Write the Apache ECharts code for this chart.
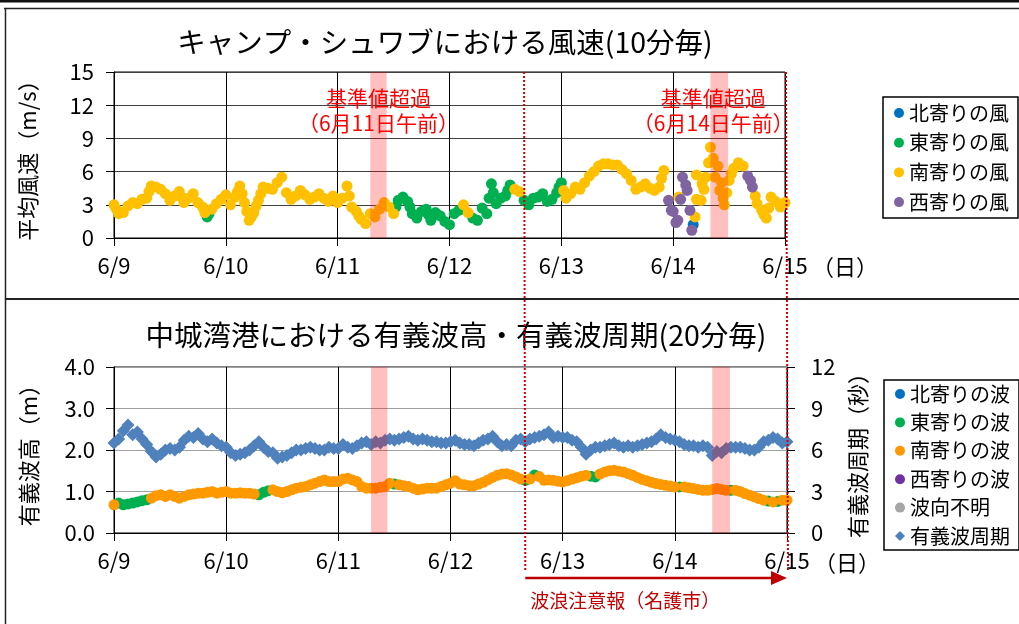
<!DOCTYPE html>
<html>
<head>
<meta charset="utf-8">
<script src="https://cdn.jsdelivr.net/npm/echarts@6/dist/echarts.min.js"></script>
<style>
  html, body { margin: 0; padding: 0; background: #fff; }
  #main { width: 1019px; height: 624px; }
</style>
</head>
<body>
<div id="main"></div>
<script>
const dayLabels = ['6/9', '6/10', '6/11', '6/12', '6/13', '6/14', '6/15']

// one reading per hour from 6/9 0:00 (index = hour)
const windSpeed = [
  3.0, 2.2, 2.3, 2.9, 3.2, 3.1, 3.5, 3.6, 4.7, 4.6, 4.4, 4.0, 3.4, 3.8, 4.2, 3.2, 3.6, 4.0, 3.2, 2.8, 1.9, 2.6, 3.1, 3.5,
  3.9, 3.0, 3.7, 4.7, 3.2, 1.6, 2.3, 3.4, 4.6, 4.5, 4.4, 5.0, 5.5, 4.1, 3.5, 3.8, 4.3, 3.9, 3.5, 3.7, 4.0, 3.6, 3.3, 3.8,
  3.2, 3.6, 4.7, 2.8, 2.4, 1.7, 1.3, 2.2, 1.9, 2.6, 3.2, 2.8, 2.2, 3.4, 3.7, 3.3, 2.2, 1.8, 2.4, 2.6, 1.6, 2.3, 2.0, 1.5,
  1.2, 2.2, 2.5, 3.0, 2.3, 1.8, 1.6, 2.7, 2.2, 4.9, 3.1, 3.6, 3.8, 4.8, 4.4, 4.2, 3.4, 3.0, 3.6, 3.7, 4.0, 3.3, 3.5, 4.1,
  5.0, 3.6, 4.0, 4.6, 4.4, 5.0, 5.6, 6.0, 6.5, 6.7, 6.7, 6.6, 6.6, 6.2, 5.8, 5.2, 4.4, 4.6, 4.9, 4.5, 4.3, 4.6, 6.1, 3.4,
  2.4, 1.6, 5.5, 4.3, 0.7, 5.7, 3.4, 5.5, 8.2, 5.5, 4.3, 3.0, 5.2, 6.3, 6.8, 6.5, 5.6, 4.6, 3.1, 2.5, 1.8, 3.7, 3.3, 2.8,
  3.2
]
// N=北 E=東 S=南 W=西
const windDir = (
  'SSSSSSSSSSSSSSSSSSSSESSS' +
  'SSSSSSSSSSSSSSSSSSSSSSSS' +
  'SSSSSSSSSSSSSEEEEEEEEEEE' +
  'EEESSEEEEEEEEESSEEEEEEEE' +
  'ESSSSSSSSSSSSSSSSSSSSSSW' +
  'WWWWWSSSSSSSSSSSWWSSSSSS' +
  'S'
).split('')
// extra 10-minute readings where the wind changes quickly or directions mix
const windExtraHour = [
  0.5, 7.5, 14.5, 19.5, 20.4, 26.5, 27.5, 28.5, 29.5, 30.5, 31.5, 50.5, 52.5, 60.5, 63.5, 67.5,
  80.5, 81.4, 84.5, 95.5, 96.5, 117.5, 119.6, 120.6, 121.2, 121.6, 122.7, 123.6, 124.3, 124.7, 125.0,
  126.2, 126.6, 127.6, 128.6, 129.6, 130.4, 130.7, 131.5, 132.5, 136.6, 137.6, 139.5, 140.5
]
const windExtraSpeed = [
  2.6, 4.2, 3.7, 2.3, 2.2, 4.2, 4.0, 2.4, 1.9, 2.9, 4.0, 3.8, 2.0, 2.8, 2.8, 2.1,
  3.6, 4.1, 4.3, 4.6, 4.3, 5.4, 2.5, 1.4, 3.7, 3.5, 4.8, 2.5, 1.2, 1.9, 3.5,
  4.9, 4.4, 6.8, 7.2, 6.5, 5.0, 3.6, 4.1, 5.8, 5.2, 3.8, 2.1, 2.7
]
const windExtraDir = [
  'S', 'S', 'S', 'S', 'E', 'S', 'S', 'S', 'S', 'S', 'S', 'S', 'S', 'E', 'E', 'E',
  'E', 'E', 'E', 'E', 'S', 'S', 'W', 'W', 'S', 'W', 'W', 'W', 'N', 'S', 'S',
  'S', 'S', 'S', 'S', 'S', 'S', 'S', 'S', 'S', 'W', 'S', 'S', 'S'
]

const waveHeight = [
  0.68, 0.72, 0.68, 0.70, 0.72, 0.75, 0.78, 0.80, 0.84, 0.90, 0.92, 0.88, 0.92, 0.88, 0.84, 0.88, 0.92, 0.94, 0.96, 0.96, 0.98, 1.00, 0.96, 0.98,
  1.00, 0.96, 0.96, 0.97, 0.96, 0.96, 0.94, 0.92, 0.98, 1.02, 1.04, 1.00, 0.97, 1.00, 1.04, 1.08, 1.10, 1.12, 1.16, 1.20, 1.24, 1.28, 1.24, 1.24,
  1.24, 1.30, 1.32, 1.28, 1.24, 1.12, 1.08, 1.08, 1.08, 1.10, 1.12, 1.20, 1.18, 1.16, 1.14, 1.12, 1.08, 1.04, 1.06, 1.08, 1.08, 1.08, 1.12, 1.16,
  1.20, 1.26, 1.18, 1.16, 1.14, 1.14, 1.18, 1.22, 1.28, 1.34, 1.39, 1.42, 1.43, 1.40, 1.35, 1.30, 1.27, 1.30, 1.40, 1.36, 1.27, 1.28, 1.27, 1.25,
  1.23, 1.26, 1.30, 1.33, 1.37, 1.39, 1.37, 1.35, 1.42, 1.47, 1.50, 1.51, 1.49, 1.47, 1.43, 1.39, 1.34, 1.29, 1.26, 1.22, 1.19, 1.17, 1.15, 1.13,
  1.11, 1.11, 1.11, 1.09, 1.07, 1.05, 1.03, 1.03, 1.05, 1.07, 1.05, 1.03, 1.03, 1.03, 1.00, 0.95, 0.91, 0.87, 0.83, 0.79, 0.77, 0.75, 0.76, 0.79,
  0.79
]
const waveDir = (
  'SEEEEEEESSSSSSSSSSSSSSSS' +
  'SSSSSSSEEESSSSSSSSSSSSSS' +
  'SSSSSSSSSSSSESSSSSSSSSSS' +
  'SSSSSSSSSSSSSSSSESESSSSS' +
  'SSSSSSEESSSSSSSSSSSSSSSS' +
  'SESSSSSSSSSSESSSSSSSESES' +
  'S'
).split('')
const wavePeriod = [
  6.5, 6.8, 7.4, 7.8, 7.1, 7.3, 6.8, 6.4, 5.9, 5.5, 5.7, 6.0, 6.1, 6.0, 6.2, 6.7, 7.0, 6.9, 7.2, 6.8, 6.6, 6.8, 6.5, 6.3,
  6.2, 5.8, 5.6, 5.7, 5.8, 6.0, 6.3, 6.6, 6.2, 5.9, 5.8, 5.4, 5.5, 5.6, 5.8, 6.0, 6.0, 6.1, 6.2, 6.1, 6.0, 6.0, 6.2, 6.1,
  6.1, 6.4, 6.2, 6.1, 6.3, 6.5, 6.6, 6.4, 6.6, 6.5, 6.7, 6.8, 6.7, 6.8, 6.9, 7.0, 6.8, 6.7, 6.8, 6.7, 6.6, 6.6, 6.5, 6.5,
  6.6, 6.7, 6.5, 6.4, 6.4, 6.3, 6.5, 6.7, 6.8, 7.0, 6.6, 6.3, 6.4, 6.3, 6.7, 6.8, 6.6, 6.8, 6.9, 7.0, 7.1, 7.3, 6.9, 7.0,
  6.9, 6.9, 6.7, 6.6, 6.2, 5.7, 6.0, 6.2, 6.2, 6.3, 6.4, 6.5, 6.3, 6.2, 6.3, 6.2, 6.3, 6.4, 6.5, 6.6, 6.8, 7.1, 6.9, 6.8,
  6.7, 6.6, 6.4, 6.3, 6.3, 6.2, 6.3, 6.2, 5.6, 5.9, 5.8, 6.1, 6.2, 6.2, 6.2, 6.1, 6.0, 6.0, 6.2, 6.6, 6.7, 6.9, 6.8, 6.5,
  6.6
]

// 基準値超過の時間帯 (hours)
const exceedBands = [[55, 58.5], [128, 131.8]]
const exceedLabels = ['基準値超過\n（6月11日午前）', '基準値超過\n（6月14日午前）']
// 波浪注意報の期間 (hours)
const warningRange = [88, 144]

const FONT = '"Noto Sans CJK JP", "Noto Sans CJK SC", sans-serif'
const dirKeys = ['N', 'E', 'S', 'W']
const windNames = ['北寄りの風', '東寄りの風', '南寄りの風', '西寄りの風']
const windColors = ['#0070C0', '#00B050', '#FFC000', '#8064A2']
const waveKeys = ['N', 'E', 'S', 'W', 'U']
const waveNames = ['北寄りの波', '東寄りの波', '南寄りの波', '西寄りの波', '波向不明']
const waveColors = ['#0070C0', '#00B050', '#FF9900', '#7030A0', '#A6A6A6']

const pick = (vals, dirs, d) => vals.map((v, i) => (dirs[i] === d ? [i, v] : null)).filter(Boolean)

const xAxisBase = (gridIndex) => ({
  gridIndex,
  type: 'value',
  min: 0,
  max: 144,
  interval: 24,
  axisLine: { show: true, lineStyle: { color: '#000', width: 1 } },
  axisTick: { show: true, length: 8, lineStyle: { color: '#000' } },
  axisLabel: { formatter: (v) => dayLabels[v / 24], fontSize: 22, color: '#000', margin: 17, fontFamily: FONT },
  splitLine: { show: true, lineStyle: { color: '#000', width: 1 } }
})

const yAxisBase = (gridIndex, max, interval, name, gridColor) => ({
  gridIndex,
  type: 'value',
  min: 0,
  max,
  interval,
  name,
  nameLocation: 'middle',
  nameGap: 75,
  nameRotate: 90,
  nameTextStyle: { fontSize: 22, color: '#000', fontFamily: FONT },
  axisLine: { show: true, lineStyle: { color: '#000' } },
  axisTick: { show: true, length: 8, lineStyle: { color: '#000' } },
  axisLabel: { fontSize: 22, color: '#000', margin: 20, fontFamily: FONT },
  splitLine: { show: true, lineStyle: { color: gridColor, width: 1 } }
})

const series = []
dirKeys.forEach((d, k) => {
  const pts = pick(windSpeed, windDir, d)
  windExtraHour.forEach((h, i) => {
    if (windExtraDir[i] === d) pts.push([h, windExtraSpeed[i]])
  })
  series.push({
    name: windNames[k],
    type: 'scatter',
    xAxisIndex: 0,
    yAxisIndex: 0,
    symbolSize: 11,
    itemStyle: { color: windColors[k], opacity: 1 },
    data: pts
  })
})
series.push({
  name: '有義波周期',
  type: 'scatter',
  xAxisIndex: 1,
  yAxisIndex: 2,
  symbol: 'diamond',
  symbolSize: 13,
  itemStyle: { color: '#4F81BD', opacity: 1 },
  data: wavePeriod.map((v, i) => [i, v])
})
waveKeys.forEach((d, k) => {
  series.push({
    name: waveNames[k],
    type: 'scatter',
    xAxisIndex: 1,
    yAxisIndex: 1,
    symbolSize: 11,
    itemStyle: { color: waveColors[k], opacity: 1 },
    data: pick(waveHeight, waveDir, d)
  })
})

// pink bands drawn over the points
series.push({
  type: 'line',
  xAxisIndex: 0,
  yAxisIndex: 0,
  data: [],
  markArea: {
    z: 10,
    silent: true,
    itemStyle: { color: 'rgba(255,0,0,0.25)' },
    label: {
      show: true,
      position: 'insideTop',
      distance: 14,
      color: '#FF0000',
      fontSize: 21,
      lineHeight: 25,
      fontFamily: FONT
    },
    data: exceedBands.map((b, i) => [
      { xAxis: b[0], name: exceedLabels[i], label: { offset: [i === 1 ? -6 : 0, 0] } },
      { xAxis: b[1] }
    ])
  }
})
series.push({
  type: 'line',
  xAxisIndex: 1,
  yAxisIndex: 1,
  data: [],
  markArea: {
    z: 10,
    silent: true,
    itemStyle: { color: 'rgba(255,0,0,0.25)' },
    data: exceedBands.map((b) => [{ xAxis: b[0] }, { xAxis: b[1] }])
  }
})

const legendBase = {
  orient: 'vertical',
  itemWidth: 10,
  itemHeight: 10,
  borderColor: '#000',
  borderWidth: 1.5,
  selectedMode: false,
  textStyle: { fontSize: 20, color: '#000', fontFamily: FONT }
}

const periodAxis = yAxisBase(1, 12, 3, '有義波周期（秒）', 'transparent')
periodAxis.position = 'right'
periodAxis.nameGap = 57
periodAxis.splitLine = { show: false }
periodAxis.axisLabel.margin = 24

const bottomAxis = yAxisBase(1, 4, 1, '有義波高（m）', '#A0A0A0')
bottomAxis.nameGap = 74
bottomAxis.axisLabel.formatter = (v) => v.toFixed(1)
bottomAxis.axisLabel.margin = 19

const option = {
  animation: false,
  textStyle: { fontFamily: FONT },
  title: [
    {
      text: 'キャンプ・シュワブにおける風速(10分毎)',
      left: 440,
      top: 23,
      textAlign: 'center',
      textStyle: { fontSize: 28.5, fontWeight: 'normal', color: '#000', fontFamily: FONT }
    },
    {
      text: '中城湾港における有義波高・有義波周期(20分毎)',
      left: 451,
      top: 316,
      textAlign: 'center',
      textStyle: { fontSize: 28.5, fontWeight: 'normal', color: '#000', fontFamily: FONT }
    }
  ],
  legend: [
    Object.assign({}, legendBase, {
      data: windNames.map((n) => ({ name: n, icon: 'circle' })),
      left: 883,
      top: 97,
      itemGap: 9.7,
      padding: [6, 9, 6, 11]
    }),
    Object.assign({}, legendBase, {
      data: waveNames.map((n) => ({ name: n, icon: 'circle' })).concat([{ name: '有義波周期', icon: 'diamond' }]),
      left: 884,
      top: 380,
      itemGap: 8.4,
      padding: [4, 9, 4, 11]
    })
  ],
  grid: [
    { left: 114, top: 72, width: 671, height: 166, show: true, borderColor: '#000', borderWidth: 1 },
    { left: 114, top: 367, width: 673, height: 166, show: true, borderColor: '#000', borderWidth: 1 }
  ],
  xAxis: [xAxisBase(0), xAxisBase(1)],
  yAxis: [
    yAxisBase(0, 15, 3, '平均風速（m/s）', '#404040'),
    bottomAxis,
    periodAxis
  ],
  series
}

const chart = echarts.init(document.getElementById('main'))
chart.setOption(option)

// frame, warning lines and labels placed through the axis scales
const pTop0 = chart.convertToPixel({ gridIndex: 0 }, [warningRange[0], 15])
const pTop1 = chart.convertToPixel({ gridIndex: 0 }, [warningRange[1], 15])
const pBot0 = chart.convertToPixel({ gridIndex: 1 }, [warningRange[0], 0])
const pBot1 = chart.convertToPixel({ gridIndex: 1 }, [warningRange[1], 0])
const endTop = chart.convertToPixel({ gridIndex: 0 }, [144, 0])
const endBot = chart.convertToPixel({ gridIndex: 1 }, [144, 0])
const red = '#D00000'
const arrowY = pBot0[1] + 45

chart.setOption({
  graphic: [
    { type: 'rect', shape: { x: 0, y: 0, width: 1019, height: 2.5 }, style: { fill: '#111' } },
    { type: 'line', shape: { x1: 4, y1: 8.5, x2: 1019, y2: 8.5 }, style: { stroke: '#222', lineWidth: 1.5 } },
    { type: 'line', shape: { x1: 5.5, y1: 8, x2: 5.5, y2: 624 }, style: { stroke: '#222', lineWidth: 1.5 } },
    { type: 'line', shape: { x1: 5, y1: 299, x2: 1019, y2: 299 }, style: { stroke: '#222', lineWidth: 2 } },
    { type: 'line', z: 20, shape: { x1: pTop0[0], y1: pTop0[1], x2: pBot0[0], y2: pBot0[1] + 37 }, style: { stroke: red, lineWidth: 2, lineDash: [2, 2] } },
    { type: 'line', z: 20, shape: { x1: pTop1[0] + 1, y1: pTop1[1], x2: pBot1[0] + 1, y2: pBot1[1] + 37 }, style: { stroke: red, lineWidth: 2, lineDash: [2, 2] } },
    { type: 'line', shape: { x1: pBot0[0], y1: arrowY, x2: pBot1[0] - 14, y2: arrowY }, style: { stroke: '#C00000', lineWidth: 2.5 } },
    { type: 'polygon', shape: { points: [[pBot1[0] - 16, arrowY - 7], [pBot1[0], arrowY], [pBot1[0] - 16, arrowY + 7]] }, style: { fill: '#C00000' } },
    { type: 'text', x: pBot0[0] + 5, y: arrowY + 23, style: { text: '波浪注意報（名護市）', fill: '#C00000', font: '19px ' + FONT, textVerticalAlign: 'middle' } },
    { type: 'text', x: endTop[0] + 27, y: endTop[1] + 29, style: { text: '（日）', fill: '#000', font: '22px ' + FONT, textVerticalAlign: 'middle' } },
    { type: 'text', x: endBot[0] + 27, y: endBot[1] + 30, style: { text: '（日）', fill: '#000', font: '22px ' + FONT, textVerticalAlign: 'middle' } }
  ]
})
</script>
</body>
</html>
